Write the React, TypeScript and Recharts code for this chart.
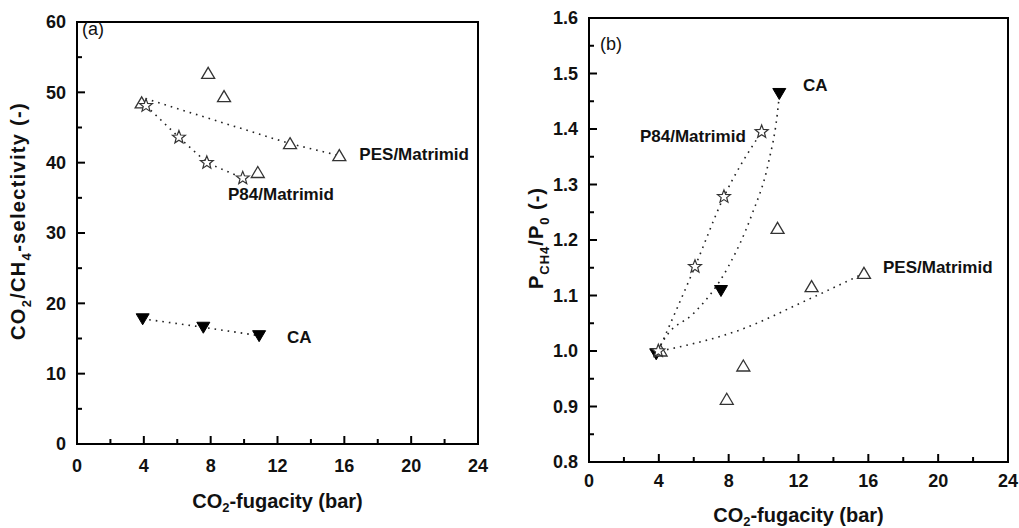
import React from "react";
import { ScatterChart, Scatter, XAxis, YAxis, ReferenceArea, ReferenceDot } from "recharts";

// (a) CO2/CH4 selectivity vs CO2 fugacity
const pesSel = [
  { x: 3.87, y: 48.5 },
  { x: 7.85, y: 52.7 },
  { x: 8.8, y: 49.4 },
  { x: 10.82, y: 38.6 },
  { x: 12.75, y: 42.7 },
  { x: 15.7, y: 41.0 },
];
const pesSelFit = [
  { x: 4.1, y: 49.1 },
  { x: 12.75, y: 42.7 },
  { x: 15.7, y: 41.0 },
];
const p84Sel = [
  { x: 4.13, y: 48.1 },
  { x: 6.1, y: 43.6 },
  { x: 7.77, y: 40.0 },
  { x: 9.92, y: 37.8 },
];
const caSel = [
  { x: 3.93, y: 17.8 },
  { x: 7.56, y: 16.6 },
  { x: 10.9, y: 15.4 },
];

// (b) P_CH4/P_0 vs CO2 fugacity
const pesRel = [
  { x: 4.1, y: 1.0 },
  { x: 7.89, y: 0.913 },
  { x: 8.84, y: 0.973 },
  { x: 10.8, y: 1.221 },
  { x: 12.75, y: 1.116 },
  { x: 15.75, y: 1.14 },
];
const pesRelFit = [
  { x: 4.1, y: 1.0 },
  { x: 8.65, y: 1.038 },
  { x: 12.5, y: 1.092 },
  { x: 15.75, y: 1.14 },
];
const p84Rel = [
  { x: 3.97, y: 1.0 },
  { x: 6.07, y: 1.152 },
  { x: 7.73, y: 1.278 },
  { x: 9.89, y: 1.395 },
];
const caRel = [
  { x: 3.85, y: 0.995 },
  { x: 7.56, y: 1.109 },
  { x: 10.9, y: 1.464 },
];
const caRelFit = [
  { x: 3.9, y: 1.0 },
  { x: 4.5, y: 1.03 },
  { x: 6.0, y: 1.068 },
  { x: 7.98, y: 1.152 },
  { x: 9.32, y: 1.245 },
  { x: 10.27, y: 1.338 },
  { x: 10.79, y: 1.428 },
  { x: 10.9, y: 1.46 },
];

const xTicks = [0, 2, 4, 6, 8, 10, 12, 14, 16, 18, 20, 22, 24];
const selTicks = [0, 5, 10, 15, 20, 25, 30, 35, 40, 45, 50, 55, 60];
const relTicks = [0.8, 0.85, 0.9, 0.95, 1.0, 1.05, 1.1, 1.15, 1.2, 1.25, 1.3, 1.35, 1.4, 1.45, 1.5, 1.55, 1.6];

const FONT = "'Liberation Sans', Arial, sans-serif";
const TM = 10;
const dotted = { stroke: "#222", strokeWidth: 1.6, strokeDasharray: "1.6 5" };

const OpenTriangle = ({ cx, cy }: any) => (
  <path d={`M${cx},${cy - 6} L${cx + 6.5},${cy + 5} L${cx - 6.5},${cy + 5} Z`} fill="#fff" stroke="#333" strokeWidth={1.3} />
);
const DownTriangle = ({ cx, cy }: any) => (
  <path d={`M${cx - 6.5},${cy - 5} L${cx + 6.5},${cy - 5} L${cx},${cy + 6} Z`} fill="#000" stroke="#000" strokeWidth={1} />
);
const OpenStar = ({ cx, cy }: any) => {
  const pts: string[] = [];
  for (let i = 0; i < 10; i++) {
    const r = i % 2 === 0 ? 6.8 : 2.9;
    const a = -Math.PI / 2 + (i * Math.PI) / 5;
    pts.push(`${(cx + r * Math.cos(a)).toFixed(2)},${(cy + r * Math.sin(a)).toFixed(2)}`);
  }
  return <polygon points={pts.join(" ")} fill="#fff" stroke="#333" strokeWidth={1.2} />;
};
const NoMark = () => <g />;

const yTick = (isMajor: (v: number) => boolean, fmt: (v: number) => string) => (p: any) => {
  const v = p.payload.value;
  const ax = p.x + TM;
  const major = isMajor(v);
  return (
    <g>
      <line x1={ax} x2={ax + (major ? 8 : 5)} y1={p.y} y2={p.y} stroke="#000" strokeWidth={2} />
      {major && (
        <text x={ax - 11} y={p.y} dy="0.36em" textAnchor="end" fontFamily={FONT} fontWeight="bold" fontSize={18} fill="#111">
          {fmt(v)}
        </text>
      )}
    </g>
  );
};
const xTick = (labelGap: number) => (p: any) => {
  const v = p.payload.value;
  const ay = p.y - TM;
  const major = v % 4 === 0;
  return (
    <g>
      <line x1={p.x} x2={p.x} y1={ay} y2={ay - (major ? 8 : 5)} stroke="#000" strokeWidth={2} />
      {major && (
        <text x={p.x} y={ay + labelGap} textAnchor="middle" fontFamily={FONT} fontWeight="bold" fontSize={18} fill="#111">
          {v}
        </text>
      )}
    </g>
  );
};

const xTitle = (gap: number) => (props: any) => {
  const vb = props.viewBox;
  return (
    <text x={vb.x + vb.width / 2} y={vb.y + gap} textAnchor="middle" fontFamily={FONT} fontWeight="bold" fontSize={20} fill="#111">
      <tspan>CO</tspan>
      <tspan dy={4} fontSize={13}>2</tspan>
      <tspan dy={-4}>-fugacity (bar)</tspan>
    </text>
  );
};

const selTitle = (props: any) => {
  const vb = props.viewBox;
  const cx = vb.x + 8;
  const cy = vb.y + vb.height / 2 - 12;
  return (
    <text x={cx} y={cy} transform={`rotate(-90 ${cx} ${cy})`} textAnchor="middle" fontFamily={FONT} fontWeight="bold" fontSize={20} letterSpacing={1.3} fill="#111">
      <tspan>CO</tspan>
      <tspan dy={6} fontSize={13}>2</tspan>
      <tspan dy={-6}>/CH</tspan>
      <tspan dy={6} fontSize={13}>4</tspan>
      <tspan dy={-6}>-selectivity (-)</tspan>
    </text>
  );
};

const relTitle = (props: any) => {
  const vb = props.viewBox;
  const cx = vb.x + 14;
  const cy = vb.y + vb.height / 2 - 2;
  return (
    <text x={cx} y={cy} transform={`rotate(-90 ${cx} ${cy})`} textAnchor="middle" fontFamily={FONT} fontWeight="bold" fontSize={20} letterSpacing={1} fill="#111">
      <tspan>P</tspan>
      <tspan dy={6} fontSize={13}>CH4</tspan>
      <tspan dy={-6}>/P</tspan>
      <tspan dy={6} fontSize={13}>0</tspan>
      <tspan dy={-6}> (-)</tspan>
    </text>
  );
};

const note = (text: string, bold = true) => (props: any) => {
  const vb = props.viewBox;
  return (
    <text x={vb.x} y={vb.y} fontFamily={FONT} fontWeight={bold ? "bold" : "normal"} fontSize={bold ? 17 : 18} fill="#111">
      {text}
    </text>
  );
};

export default function App() {
  return (
    <div style={{ position: "absolute", left: 0, top: 0, width: 1019, height: 528, background: "#fff" }}>
      <div style={{ position: "absolute", left: 0, top: 0 }}>
        <ScatterChart width={500} height={528} margin={{ top: 22, right: 22, bottom: 44, left: 17 }}>
          <XAxis type="number" dataKey="x" domain={[0, 24]} ticks={xTicks} interval={0} tickSize={0} tickMargin={TM} axisLine={false} tick={xTick(28)} height={40} label={{ content: xTitle(64) }} />
          <YAxis type="number" dataKey="y" domain={[0, 60]} ticks={selTicks} interval={0} tickSize={0} tickMargin={TM} axisLine={false} tick={yTick((v) => v % 10 === 0, (v) => String(v))} width={60} label={{ content: selTitle }} />
          <ReferenceArea x1={0} x2={24} y1={0} y2={60} fill="none" stroke="#000" strokeWidth={2} />
          <Scatter data={pesSelFit} shape={NoMark} line={dotted} isAnimationActive={false} />
          <Scatter data={p84Sel} shape={NoMark} line={dotted} isAnimationActive={false} />
          <Scatter data={caSel} shape={NoMark} line={dotted} isAnimationActive={false} />
          <Scatter data={caSel} shape={DownTriangle} isAnimationActive={false} />
          <Scatter data={pesSel} shape={OpenTriangle} isAnimationActive={false} />
          <Scatter data={p84Sel} shape={OpenStar} isAnimationActive={false} />
          <ReferenceDot x={0.3} y={58.2} r={0} ifOverflow="visible" label={note("(a)", false)} />
          <ReferenceDot x={16.9} y={40.4} r={0} ifOverflow="visible" label={note("PES/Matrimid")} />
          <ReferenceDot x={9.04} y={34.7} r={0} ifOverflow="visible" label={note("P84/Matrimid")} />
          <ReferenceDot x={12.57} y={14.3} r={0} ifOverflow="visible" label={note("CA")} />
        </ScatterChart>
      </div>
      <div style={{ position: "absolute", left: 510, top: 0 }}>
        <ScatterChart width={509} height={528} margin={{ top: 18, right: 11, bottom: 26, left: 19 }}>
          <XAxis type="number" dataKey="x" domain={[0, 24]} ticks={xTicks} interval={0} tickSize={0} tickMargin={TM} axisLine={false} tick={xTick(25)} height={40} label={{ content: xTitle(60) }} />
          <YAxis type="number" dataKey="y" domain={[0.8, 1.6]} ticks={relTicks} interval={0} tickSize={0} tickMargin={TM} axisLine={false} tick={yTick((v) => Math.round(v * 100) % 10 === 0, (v) => v.toFixed(1))} width={60} label={{ content: relTitle }} />
          <ReferenceArea x1={0} x2={24} y1={0.8} y2={1.6} fill="none" stroke="#000" strokeWidth={2} />
          <Scatter data={pesRelFit} shape={NoMark} line={dotted} lineJointType="monotoneX" isAnimationActive={false} />
          <Scatter data={p84Rel} shape={NoMark} line={dotted} lineJointType="monotoneX" isAnimationActive={false} />
          <Scatter data={caRelFit} shape={NoMark} line={dotted} lineJointType="monotoneX" isAnimationActive={false} />
          <Scatter data={caRel} shape={DownTriangle} isAnimationActive={false} />
          <Scatter data={pesRel} shape={OpenTriangle} isAnimationActive={false} />
          <Scatter data={p84Rel} shape={OpenStar} isAnimationActive={false} />
          <ReferenceDot x={0.63} y={1.542} r={0} ifOverflow="visible" label={note("(b)", false)} />
          <ReferenceDot x={12.26} y={1.468} r={0} ifOverflow="visible" label={note("CA")} />
          <ReferenceDot x={2.92} y={1.377} r={0} ifOverflow="visible" label={note("P84/Matrimid")} />
          <ReferenceDot x={16.84} y={1.1405} r={0} ifOverflow="visible" label={note("PES/Matrimid")} />
        </ScatterChart>
      </div>
    </div>
  );
}
